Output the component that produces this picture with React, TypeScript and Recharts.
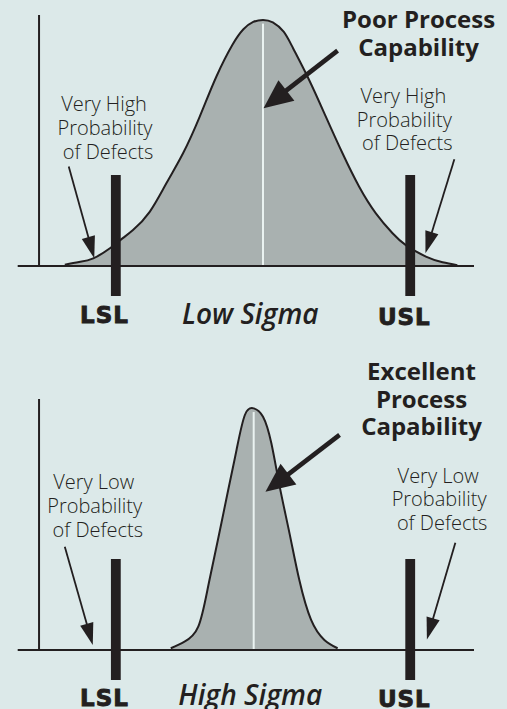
import { ComposedChart, Area, XAxis, YAxis, ReferenceLine, ReferenceArea, ReferenceDot } from 'recharts'

// process value (x) vs. relative frequency (y)
const lowSigmaX = [9.6, 12.5, 15.4, 18.8, 21.1, 23.5, 26.9, 30.3, 33.7, 37.1, 40.5, 43.8, 46.0, 48.0, 50, 52.0, 54.2, 56.1, 59.4, 62.8, 66.2, 69.6, 73, 76.4, 79.1, 83.2, 86.6, 89.6]
const lowSigmaY = [0.5, 1.6, 3.1, 7.2, 10.8, 14.6, 22, 33.6, 45.8, 60.7, 77, 90.0, 96.2, 99.2, 100, 99.0, 95.2, 88.6, 75.6, 60.7, 45.8, 32.2, 21.4, 13.3, 8.5, 3.8, 1.5, 0.3]

const highSigmaX = [31.2, 34.0, 36.8, 38.8, 40.8, 42.9, 44.6, 46.3, 48.1, 50.0, 51.7, 53.4, 55.4, 57.4, 59.8, 62.5, 65.2]
const highSigmaY = [0.7, 3.4, 9.5, 25.7, 44.7, 65, 81.3, 95.5, 98.2, 94.8, 84, 66.4, 47.4, 28.4, 12.2, 4.1, 0.7]

const specNames = ['LSL', 'USL']
const specValues = [20, 80]
const specBarTop = 37

const X_DOMAIN: [number, number] = [0, 93]
const Y_DOMAIN: [number, number] = [-12.2, 102]
const AXIS_X = 4.35

const INK = '#231f20'
const BG = '#dce9e9'
const FILL = '#a9b1b0'
const SANS = '"Open Sans", sans-serif'
const WIDE = '"DejaVu Sans", sans-serif'

type Note = { x: number; y: number; lines: string[]; gap: number }
type Arrow = { from: [number, number]; to: [number, number]; big?: boolean }

interface PanelProps {
  height: number
  top: number
  xs: number[]
  ys: number[]
  mean: number
  peak: number
  sigmaLabel: string
  labelY: [number, number, number]
  leftNote: Note
  rightNote: Note
  title: Note
  arrows: Arrow[]
}

const noteShift = [-1, 0, 3]

function textShape(note: Note, size: number, weight: number) {
  const bold = weight >= 700
  return (p: any) => (
    <text x={p.cx} y={p.cy} textAnchor="middle" fontFamily={SANS} fontSize={size} fontWeight={weight} fill={INK}>
      {note.lines.map((l, i) => (
        <tspan key={i} x={p.cx + (bold ? 0 : noteShift[i] || 0)} y={p.cy + i * note.gap}>
          {l}
        </tspan>
      ))}
    </text>
  )
}

function labelShape(text: string, italic: boolean) {
  return (p: any) =>
    italic ? (
      <text x={p.cx} y={p.cy} textAnchor="middle" fontFamily={SANS} fontSize={28} fontWeight={600} fontStyle="italic" fill={INK}>
        {text}
      </text>
    ) : (
      <text x={p.cx} y={p.cy} textAnchor="middle" fontFamily={WIDE} fontSize={23} fontWeight="bold" letterSpacing={1}
        fill={INK} stroke={INK} strokeWidth={0.9}>
        {text}
      </text>
    )
}

function arrowShape(big: boolean) {
  return (p: any) => {
    const { x1, y1, x2, y2 } = p
    const len = Math.hypot(x2 - x1, y2 - y1)
    const ux = (x2 - x1) / len
    const uy = (y2 - y1) / len
    const head = big ? 29 : 22
    const half = big ? 13 : 6.8
    const bx = x2 - ux * head
    const by = y2 - uy * head
    return (
      <g>
        <line x1={x1} y1={y1} x2={bx + ux * 2} y2={by + uy * 2} stroke={INK} strokeWidth={big ? 4.6 : 1.8} />
        <polygon points={`${x2},${y2} ${bx - uy * half},${by + ux * half} ${bx + uy * half},${by - ux * half}`} fill={INK} />
      </g>
    )
  }
}

function SigmaPanel(props: PanelProps) {
  const data = props.xs.map((x, i) => ({ x, y: props.ys[i] }))
  const { leftNote, rightNote, title } = props
  const bottom = props.height - props.top - 281
  return (
    <ComposedChart width={507} height={props.height} data={data} margin={{ top: props.top, right: 33, bottom, left: 17.7 }}>
      <XAxis dataKey="x" type="number" domain={X_DOMAIN} hide allowDataOverflow />
      <YAxis type="number" domain={Y_DOMAIN} hide allowDataOverflow />
      <Area dataKey="y" type="natural" baseValue={0} fill={FILL} fillOpacity={1} stroke={INK} strokeWidth={2}
        dot={false} activeDot={false} isAnimationActive={false} />
      <ReferenceLine segment={[{ x: props.mean, y: 0 }, { x: props.mean, y: props.peak - 1.5 }]} stroke="#eaf3f1" strokeWidth={2} />
      <ReferenceLine y={0} stroke={INK} strokeWidth={2} />
      <ReferenceLine segment={[{ x: AXIS_X, y: 0 }, { x: AXIS_X, y: Y_DOMAIN[1] }]} stroke={INK} strokeWidth={2} />
      {specValues.map((v) => (
        <ReferenceArea key={v} x1={v - 1} x2={v + 1} y1={Y_DOMAIN[0]} y2={specBarTop} fill={INK} fillOpacity={1} stroke="none" ifOverflow="visible" />
      ))}
      {props.arrows.map((a, i) => (
        <ReferenceLine key={'a' + i} segment={[{ x: a.from[0], y: a.from[1] }, { x: a.to[0], y: a.to[1] }]}
          shape={arrowShape(!!a.big)} ifOverflow="visible" />
      ))}
      <ReferenceDot x={leftNote.x} y={leftNote.y} r={0} ifOverflow="visible" shape={textShape(leftNote, 20, 300)} />
      <ReferenceDot x={rightNote.x} y={rightNote.y} r={0} ifOverflow="visible" shape={textShape(rightNote, 20, 300)} />
      <ReferenceDot x={title.x} y={title.y} r={0} ifOverflow="visible" shape={textShape(title, 24, 700)} />
      <ReferenceDot x={specValues[0] - 2.3} y={props.labelY[0]} r={0} ifOverflow="visible" shape={labelShape(specNames[0], false)} />
      <ReferenceDot x={47.4} y={props.labelY[1]} r={0} ifOverflow="visible" shape={labelShape(props.sigmaLabel, true)} />
      <ReferenceDot x={specValues[1] - 1.2} y={props.labelY[2]} r={0} ifOverflow="visible" shape={labelShape(specNames[1], false)} />
    </ComposedChart>
  )
}

export default function App() {
  return (
    <div style={{ position: 'absolute', left: 0, top: 0, width: 507, height: 709, overflow: 'hidden', background: BG }}>
      <SigmaPanel
        height={345}
        top={15}
        xs={lowSigmaX}
        ys={lowSigmaY}
        mean={50}
        peak={100}
        sigmaLabel="Low Sigma"
        labelY={[-23.2, -23.6, -24]}
        leftNote={{ x: 17.8, y: 63, lines: ['Very High', 'Probability', 'of Defects'], gap: 24 }}
        rightNote={{ x: 78.8, y: 66.2, lines: ['Very High', 'Probability', 'of Defects'], gap: 23.5 }}
        title={{ x: 81.7, y: 96.7, lines: ['Poor Process', 'Capability'], gap: 27.5 }}
        arrows={[
          { from: [10.4, 40.4], to: [15.6, 3.1] },
          { from: [89.0, 43.4], to: [83.1, 5.2] },
          { from: [65.2, 87.5], to: [50.1, 64.1], big: true },
        ]}
      />
      <SigmaPanel
        height={364}
        top={54}
        xs={highSigmaX}
        ys={highSigmaY}
        mean={48.1}
        peak={98.2}
        sigmaLabel="High Sigma"
        labelY={[-22.8, -22.4, -23.2]}
        leftNote={{ x: 15.7, y: 65.4, lines: ['Very Low', 'Probability', 'of Defects'], gap: 24 }}
        rightNote={{ x: 85.9, y: 67.9, lines: ['Very Low', 'Probability', 'of Defects'], gap: 23.5 }}
        title={{ x: 82.3, y: 109.7, lines: ['Excellent', 'Process', 'Capability'], gap: 27.5 }}
        arrows={[
          { from: [9.6, 42.0], to: [15.3, 2.0] },
          { from: [89.2, 43.6], to: [83.4, 4.3] },
          { from: [65.6, 87.4], to: [50.5, 64.3], big: true },
        ]}
      />
    </div>
  )
}
